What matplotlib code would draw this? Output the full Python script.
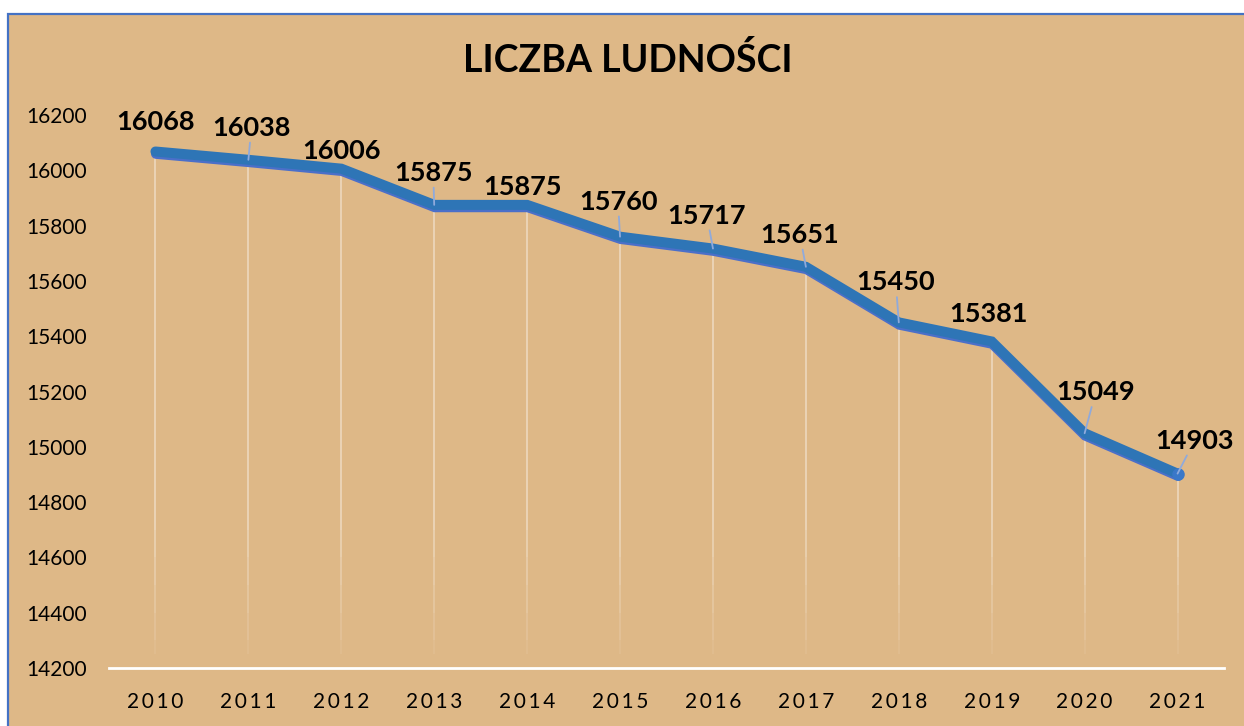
import matplotlib
matplotlib.use("Agg")
import matplotlib.pyplot as plt
import matplotlib.patheffects as pe
from matplotlib.patches import Rectangle

# dane
years = ["2010", "2011", "2012", "2013", "2014", "2015",
         "2016", "2017", "2018", "2019", "2020", "2021"]
population = [16068, 16038, 16006, 15875, 15875, 15760,
              15717, 15651, 15450, 15381, 15049, 14903]
title = "LICZBA LUDNOŚCI"

# przesuniecia etykiet (piksele) i ktore maja linie odniesienia
label_dx = [0, 3, 0, -1, -5, -2, -6, -6, -3, -3, 11, 17]
label_dy = [29, 32, 18, 32, 18, 35, 33, 32, 40, 27, 41, 33]
leader = [False, True, False, True, False, True, True, True, True, False, True, True]

bg = "#DEB887"
blue = "#2E75B6"

plt.rcParams['font.family'] = ['Lato', 'DejaVu Sans']

fig = plt.figure(figsize=(12.44, 7.26), dpi=100, facecolor="white")
# tlo wykresu z niebieska ramka
fig.patches.append(Rectangle((8 / 1244, -0.02), 1.1, 1.02 - 14 / 726,
                             transform=fig.transFigure, facecolor=bg,
                             edgecolor="#4472C4", linewidth=1.6, zorder=-10))

ax = fig.add_axes([109 / 1244, 1 - 668 / 726, (1224 - 109) / 1244, (668 - 115) / 726])
ax.set_facecolor("none")
ax.set_zorder(1)

x = list(range(len(years)))

# linie spadku, zanikajace ku dolowi
steps = [14700, 14600, 14500, 14400, 14300, 14250]
for xi, v in zip(x, population):
    ax.plot([xi, xi], [v, steps[0]], color="white", lw=1.2, alpha=0.45,
            solid_capstyle="butt", zorder=1)
    for k in range(len(steps) - 1):
        ax.plot([xi, xi], [steps[k], steps[k + 1]], color="white", lw=1.2,
                alpha=0.45 * (1 - (k + 1) / len(steps)), solid_capstyle="butt", zorder=1)

ax.plot(x, population, color=blue, lw=7.2, solid_capstyle="round",
        solid_joinstyle="miter", zorder=3,
        path_effects=[pe.SimpleLineShadow(offset=(0.4, -1.7), shadow_color="#4B6FC9", alpha=1.0),
                      pe.Normal()])
ax.plot(x[-1], population[-1], "o", color="#3A78C9", ms=8, zorder=4)

for xi, v, dx, dy, ld in zip(x, population, label_dx, label_dy, leader):
    arrow = None
    if ld:
        arrow = dict(arrowstyle="-", color="#8FAADC", lw=1.3, shrinkA=0, shrinkB=0)
    ax.annotate(str(v), (xi, v), xytext=(dx, dy), textcoords="offset pixels",
                ha="center", va="center", fontsize=19.5, fontweight="bold",
                color="black", arrowprops=arrow, zorder=5)

ax.set_xlim(-0.5, len(years) - 0.5)
ax.set_ylim(14200, 16200)
ax.set_yticks(range(14200, 16201, 200))
ax.set_xticks(x)
ax.set_xticklabels(["\u2009".join(y) for y in years])
ax.tick_params(axis="y", length=0, pad=16, labelsize=15)
ax.tick_params(axis="x", length=0, pad=17, labelsize=15)
for s in ["top", "left", "right"]:
    ax.spines[s].set_visible(False)
ax.spines["bottom"].set_color("white")
ax.spines["bottom"].set_linewidth(2)

fig.text(628 / 1244, 1 - 60 / 726, title, ha="center", va="center",
         fontsize=27, fontweight="bold", zorder=5)

fig.savefig("out.png", dpi=100, facecolor=fig.get_facecolor())
